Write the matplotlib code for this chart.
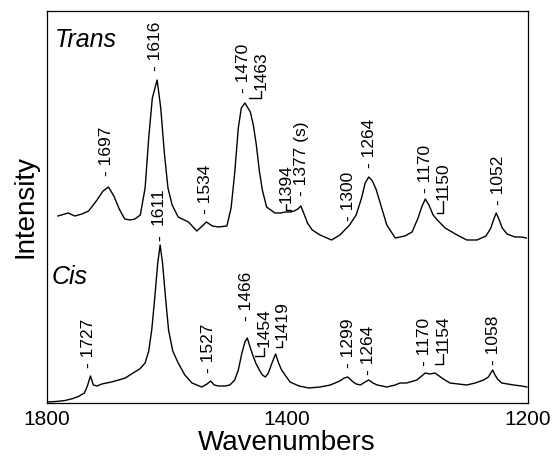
import numpy as np
import matplotlib
matplotlib.use("Agg")
import matplotlib.pyplot as plt

plt.rcParams['font.family'] = ['Liberation Sans', 'DejaVu Sans']

# spectra (wavenumber, intensity in arbitrary units)
trans_wn = [1781, 1764, 1753, 1741, 1730, 1716, 1706, 1697, 1688, 1679, 1670, 1661,
            1653, 1644, 1636, 1630, 1624, 1616, 1610, 1604, 1598, 1591, 1581, 1564,
            1550, 1541, 1534, 1524, 1514, 1500, 1493, 1487, 1481, 1476, 1470, 1466,
            1461, 1456, 1451, 1446, 1441, 1434, 1420, 1410, 1403, 1394, 1388, 1382,
            1377, 1371, 1366, 1358, 1345, 1326, 1312, 1304, 1296, 1285, 1276, 1270,
            1264, 1258, 1252, 1244, 1234, 1220, 1204, 1192, 1182, 1176, 1170, 1164,
            1157, 1150, 1137, 1120, 1101, 1084, 1069, 1061, 1056, 1052, 1047, 1042,
            1034, 1021, 1010, 1002]
trans_int = [187, 190, 187, 189, 192, 203, 212, 216, 207, 194, 184, 183,
             184, 188, 215, 265, 305, 323, 295, 250, 215, 198, 186, 181,
             172, 177, 181, 177, 176, 177, 195, 230, 275, 295, 300, 296,
             291, 278, 258, 232, 213, 196, 190, 190, 191, 191, 192, 194,
             197, 188, 180, 173, 168, 163, 168, 173, 178, 188, 205, 220,
             226, 222, 214, 198, 178, 165, 167, 171, 185, 196, 204, 198,
             188, 183, 175, 169, 163, 163, 167, 175, 184, 190, 183, 175,
             169, 166, 166, 165]

cis_wn = [1800, 1784, 1769, 1756, 1747, 1737, 1732, 1727, 1722, 1716, 1708, 1692,
          1680, 1669, 1656, 1645, 1636, 1630, 1625, 1620, 1615, 1611, 1607, 1602,
          1597, 1590, 1581, 1570, 1558, 1542, 1533, 1527, 1521, 1514, 1503, 1495,
          1487, 1481, 1475, 1470, 1466, 1462, 1457, 1452, 1446, 1441, 1436, 1431,
          1425, 1419, 1414, 1409, 1402, 1395, 1380, 1364, 1345, 1328, 1312, 1305,
          1299, 1292, 1285, 1278, 1270, 1264, 1257, 1250, 1234, 1220, 1212, 1201,
          1184, 1176, 1170, 1162, 1154, 1147, 1140, 1129, 1115, 1101, 1087, 1073,
          1065, 1061, 1058, 1054, 1050, 1043, 1023, 1010, 1001]
cis_int = [1, 1.5, 2.5, 4.5, 6.5, 10, 17, 27, 18, 17, 19, 21,
           23, 25, 30, 34, 40, 52, 73, 105, 140, 158, 140, 105,
           73, 52, 40, 28, 20, 16, 19, 22, 18, 17, 17, 18,
           23, 33, 50, 61, 65, 57, 48, 40, 33, 28, 26, 30,
           40, 49, 40, 33, 27, 21, 17, 15, 16, 18, 22, 25,
           26, 22, 19, 18, 21, 23, 20, 18, 16, 18, 20, 20,
           23, 27, 30, 29, 30, 27, 24, 20, 19, 18, 20, 23,
           26, 30, 33, 28, 24, 20, 18, 17, 16]

# peak labels: text, x (wavenumber), bottom of label
trans_labels = ["1697", "1616", "1534", "1470", "1377 (s)", "1300", "1264", "1170", "1052"]
trans_label_wn = [1701, 1619, 1535, 1473, 1376, 1297, 1262, 1169, 1049]
trans_label_y = [227, 332, 189, 310, 207, 182, 235, 210, 198]

cis_labels = ["1727", "1527", "1466", "1299", "1264", "1170", "1058"]
cis_label_wn = [1730, 1530, 1467, 1297, 1264, 1171, 1056]
cis_label_y = [35, 30, 82, 35, 28, 37, 38]

# shoulder labels with a small bent leader to the peak
shoulder_labels = ["1463", "1394", "1150", "1454", "1419", "1154"]
shoulder_text_wn = [1443, 1401, 1140, 1438, 1408, 1141]
shoulder_text_y = [313, 200, 203, 56, 63, 50]
shoulder_peak_wn = [1463, 1394, 1150, 1454, 1419, 1154]
shoulder_peak_y = [305, 193, 190, 47, 56, 39]

xtick_pos = [1800, 1400, 1000]
xtick_labels = ["1800", "1400", "1200"]

fig = plt.figure(figsize=(5.53, 4.66), dpi=100)
ax = fig.add_axes([0.0841, 0.1352, 0.8698, 0.8412])

ax.plot(trans_wn, trans_int, color='black', lw=1.0)
ax.plot(cis_wn, cis_int, color='black', lw=1.0)

lab_fs = 12.5
for t, x, y in zip(trans_labels + cis_labels, trans_label_wn + cis_label_wn,
                   trans_label_y + cis_label_y):
    ax.text(x, y, "- " + t, rotation=90, ha='center', va='bottom', fontsize=lab_fs)

# the 1611 label sits apart from its dash
ax.text(1611, 162, "-", rotation=90, ha='center', va='bottom', fontsize=lab_fs)
ax.text(1615, 178, "1611", rotation=90, ha='center', va='bottom', fontsize=lab_fs)

for t, tx, ty, px, py in zip(shoulder_labels, shoulder_text_wn, shoulder_text_y,
                             shoulder_peak_wn, shoulder_peak_y):
    ax.text(tx, ty, t, rotation=90, ha='center', va='bottom', fontsize=lab_fs)
    ax.annotate('', xy=(px, py), xytext=(tx, ty - 1),
                arrowprops=dict(arrowstyle='-', lw=1.0, shrinkA=0, shrinkB=0,
                                connectionstyle='angle,angleA=90,angleB=0,rad=0'))

ax.text(0.018, 0.957, "Trans", transform=ax.transAxes, fontsize=18,
        style='italic', ha='left', va='top')
ax.text(0.011, 0.352, "Cis", transform=ax.transAxes, fontsize=18,
        style='italic', ha='left', va='top')

ax.set_xlim(1800, 1000)
ax.set_ylim(0, 392)
ax.set_xticks(xtick_pos)
ax.set_xticklabels(xtick_labels, fontsize=15)
ax.set_yticks([])
ax.tick_params(axis='x', length=0, pad=5)
for s in ax.spines.values():
    s.set_linewidth(0.9)

ax.set_xlabel("Wavenumbers", fontsize=20, labelpad=1)
ax.set_ylabel("Intensity", fontsize=20, labelpad=6)

fig.savefig("out.png", dpi=100)
